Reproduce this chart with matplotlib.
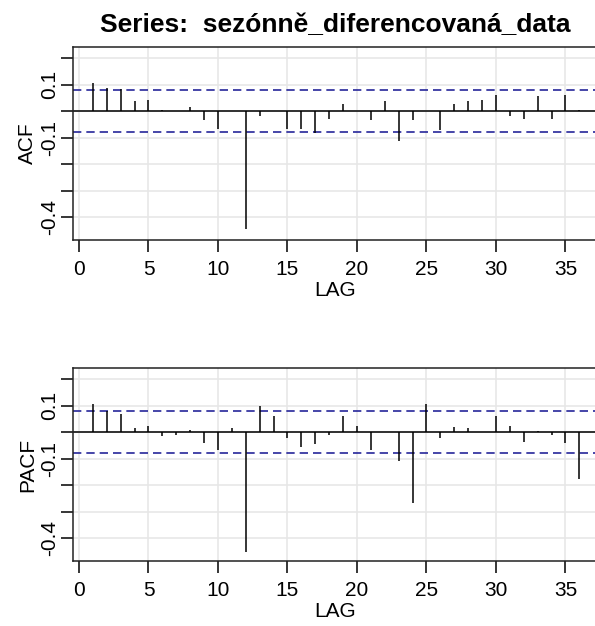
#!/usr/bin/env python
import numpy as np
import matplotlib
matplotlib.use('Agg')
import matplotlib.pyplot as plt

plt.rcParams['font.family'] = ['Liberation Sans', 'DejaVu Sans']

title = 'Series:  sezónně_diferencovaná_data'
lags = np.arange(1, 37)
acf_vals = [0.109, 0.088, 0.083, 0.038, 0.043, 0.006, 0.001, 0.017, -0.033, -0.065,
            0.001, -0.444, -0.019, 0.001, -0.065, -0.065, -0.083, -0.030, 0.028, 0.001,
            -0.033, 0.038, -0.111, -0.033, 0.001, -0.070, 0.028, 0.038, 0.043, 0.063,
            -0.017, -0.030, 0.057, -0.030, 0.063, 0.006]
pacf_vals = [0.108, 0.082, 0.068, 0.016, 0.025, -0.013, -0.009, 0.010, -0.040, -0.065,
             0.016, -0.452, 0.098, 0.063, -0.020, -0.055, -0.045, -0.009, 0.063, 0.026,
             -0.065, 0.001, -0.106, -0.265, 0.108, -0.020, 0.020, 0.015, 0.001, 0.063,
             0.025, -0.035, 0.005, -0.009, -0.040, -0.175]
conf = 0.079
y_ticks = [-0.4, -0.3, -0.2, -0.1, 0.0, 0.1, 0.2]
y_labels = ['-0.4', '', '', '-0.1', '', '0.1', '']
x_ticks = [0, 5, 10, 15, 20, 25, 30, 35]

W, H = 595, 626
fig = plt.figure(figsize=(W / 100, H / 100), dpi=100)

def px_axes(left, top, right, bottom):
    return fig.add_axes([left / W, 1 - bottom / H, (right - left) / W, (bottom - top) / H])

ax1 = px_axes(73.3, 47, 597, 240)
ax2 = px_axes(73.3, 368, 597, 561)

for ax, vals, name in [(ax1, acf_vals, 'ACF'), (ax2, pacf_vals, 'PACF')]:
    ax.set_xlim(-0.41, 37.27)
    ax.set_ylim(-0.485, 0.243)
    for x in x_ticks:
        ax.axvline(x, color='#e6e6e6', lw=1.1, zorder=0)
    for y in y_ticks:
        ax.axhline(y, color='#e6e6e6', lw=1.1, zorder=0)
    ax.vlines(lags, 0, vals, color='black', lw=1.1, zorder=3)
    ax.axhline(0, color='#111111', lw=1.2, zorder=2)
    ax.axhline(conf, color='#26269a', lw=1.2, ls=(0, (5, 3)), zorder=2)
    ax.axhline(-conf, color='#26269a', lw=1.2, ls=(0, (5, 3)), zorder=2)
    ax.set_xticks(x_ticks)
    ax.set_yticks(y_ticks)
    ax.set_yticklabels(y_labels, rotation=90, va='center')
    ax.tick_params(axis='both', direction='out', length=8.5, width=1.1,
                   labelsize=15, colors='black')
    ax.tick_params(axis='x', pad=6)
    ax.tick_params(axis='y', pad=2)
    for sp in ax.spines.values():
        sp.set_color('#222222')
        sp.set_linewidth(1.1)
    ax.set_ylabel(name, fontsize=15, labelpad=2)
    ax.set_xlabel('LAG', fontsize=15, labelpad=1)

ax1.set_title(title, fontsize=19, fontweight='bold', pad=11)

plt.savefig('out.png', dpi=100)
